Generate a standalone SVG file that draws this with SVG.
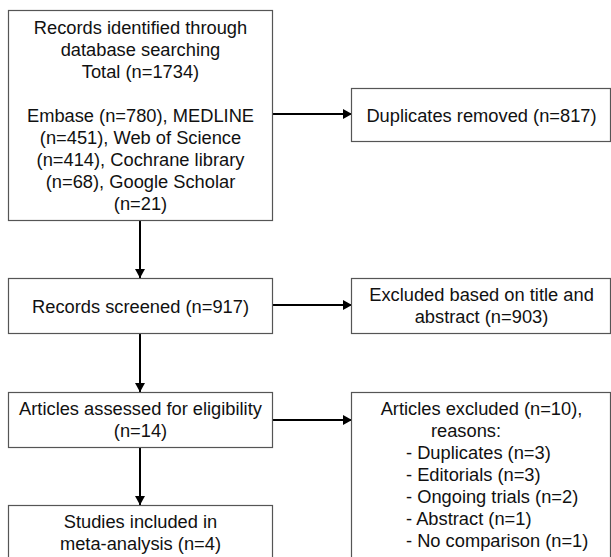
<svg xmlns="http://www.w3.org/2000/svg" width="611" height="557" viewBox="0 0 611 557">
<style>
.box{fill:#fff;stroke:#555;stroke-width:1.2}
text{font-family:"Liberation Sans",Arial,sans-serif;font-size:18.3px;fill:#111}
.c{text-anchor:middle}
.conn{stroke:#000;stroke-width:2;fill:none}
</style>
<defs>
<marker id="ah" markerUnits="userSpaceOnUse" markerWidth="12" markerHeight="12" viewBox="0 0 12 12" refX="10" refY="6" orient="auto">
<path d="M1,1 L10,6 L1,11 Z" fill="#000"/>
</marker>
</defs>
<rect width="611" height="557" fill="#fff"/>
<g id="connectors">
<line class="conn" x1="273" y1="114" x2="352" y2="114" marker-end="url(#ah)"/>
<line class="conn" x1="140" y1="221" x2="140" y2="278" marker-end="url(#ah)"/>
<line class="conn" x1="273" y1="305" x2="352" y2="305" marker-end="url(#ah)"/>
<line class="conn" x1="140" y1="334" x2="140" y2="392" marker-end="url(#ah)"/>
<line class="conn" x1="273" y1="420" x2="352" y2="420" marker-end="url(#ah)"/>
<line class="conn" x1="140" y1="447" x2="140" y2="505" marker-end="url(#ah)"/>
</g>
<g id="n1">
<rect class="box" x="8.5" y="10.5" width="264" height="210"/>
<text class="c" x="140.5" y="34">Records identified through</text>
<text class="c" x="140.5" y="56">database searching</text>
<text class="c" x="140.5" y="78">Total (n=1734)</text>
<text class="c" x="140.5" y="122">Embase (n=780), MEDLINE</text>
<text class="c" x="140.5" y="144">(n=451), Web of Science</text>
<text class="c" x="140.5" y="166">(n=414), Cochrane library</text>
<text class="c" x="140.5" y="188">(n=68), Google Scholar</text>
<text class="c" x="140.5" y="210">(n=21)</text>
</g>
<g id="n2">
<rect class="box" x="351.5" y="88.5" width="259" height="53"/>
<text class="c" x="481.5" y="121.5">Duplicates removed (n=817)</text>
</g>
<g id="n3">
<rect class="box" x="8.5" y="278.5" width="264" height="55"/>
<text class="c" x="140.5" y="312.5">Records screened (n=917)</text>
</g>
<g id="n4">
<rect class="box" x="351.5" y="278.5" width="259" height="55"/>
<text class="c" x="481.5" y="301">Excluded based on title and</text>
<text class="c" x="481.5" y="323">abstract (n=903)</text>
</g>
<g id="n5">
<rect class="box" x="8.5" y="392.5" width="264" height="55"/>
<text class="c" x="140.5" y="415">Articles assessed for eligibility</text>
<text class="c" x="140.5" y="437">(n=14)</text>
</g>
<g id="n6">
<rect class="box" x="351.5" y="392.5" width="259" height="180"/>
<text class="c" x="481.5" y="415">Articles excluded (n=10),</text>
<text class="c" x="466" y="437">reasons:</text>
<text x="406" y="459">- Duplicates (n=3)</text>
<text x="406" y="481">- Editorials (n=3)</text>
<text x="406" y="503">- Ongoing trials (n=2)</text>
<text x="406" y="525">- Abstract (n=1)</text>
<text x="406" y="547">- No comparison (n=1)</text>
</g>
<g id="n7">
<rect class="box" x="8.5" y="505.5" width="264" height="70"/>
<text class="c" x="140.5" y="528">Studies included in</text>
<text class="c" x="140.5" y="550">meta-analysis (n=4)</text>
</g>
</svg>
